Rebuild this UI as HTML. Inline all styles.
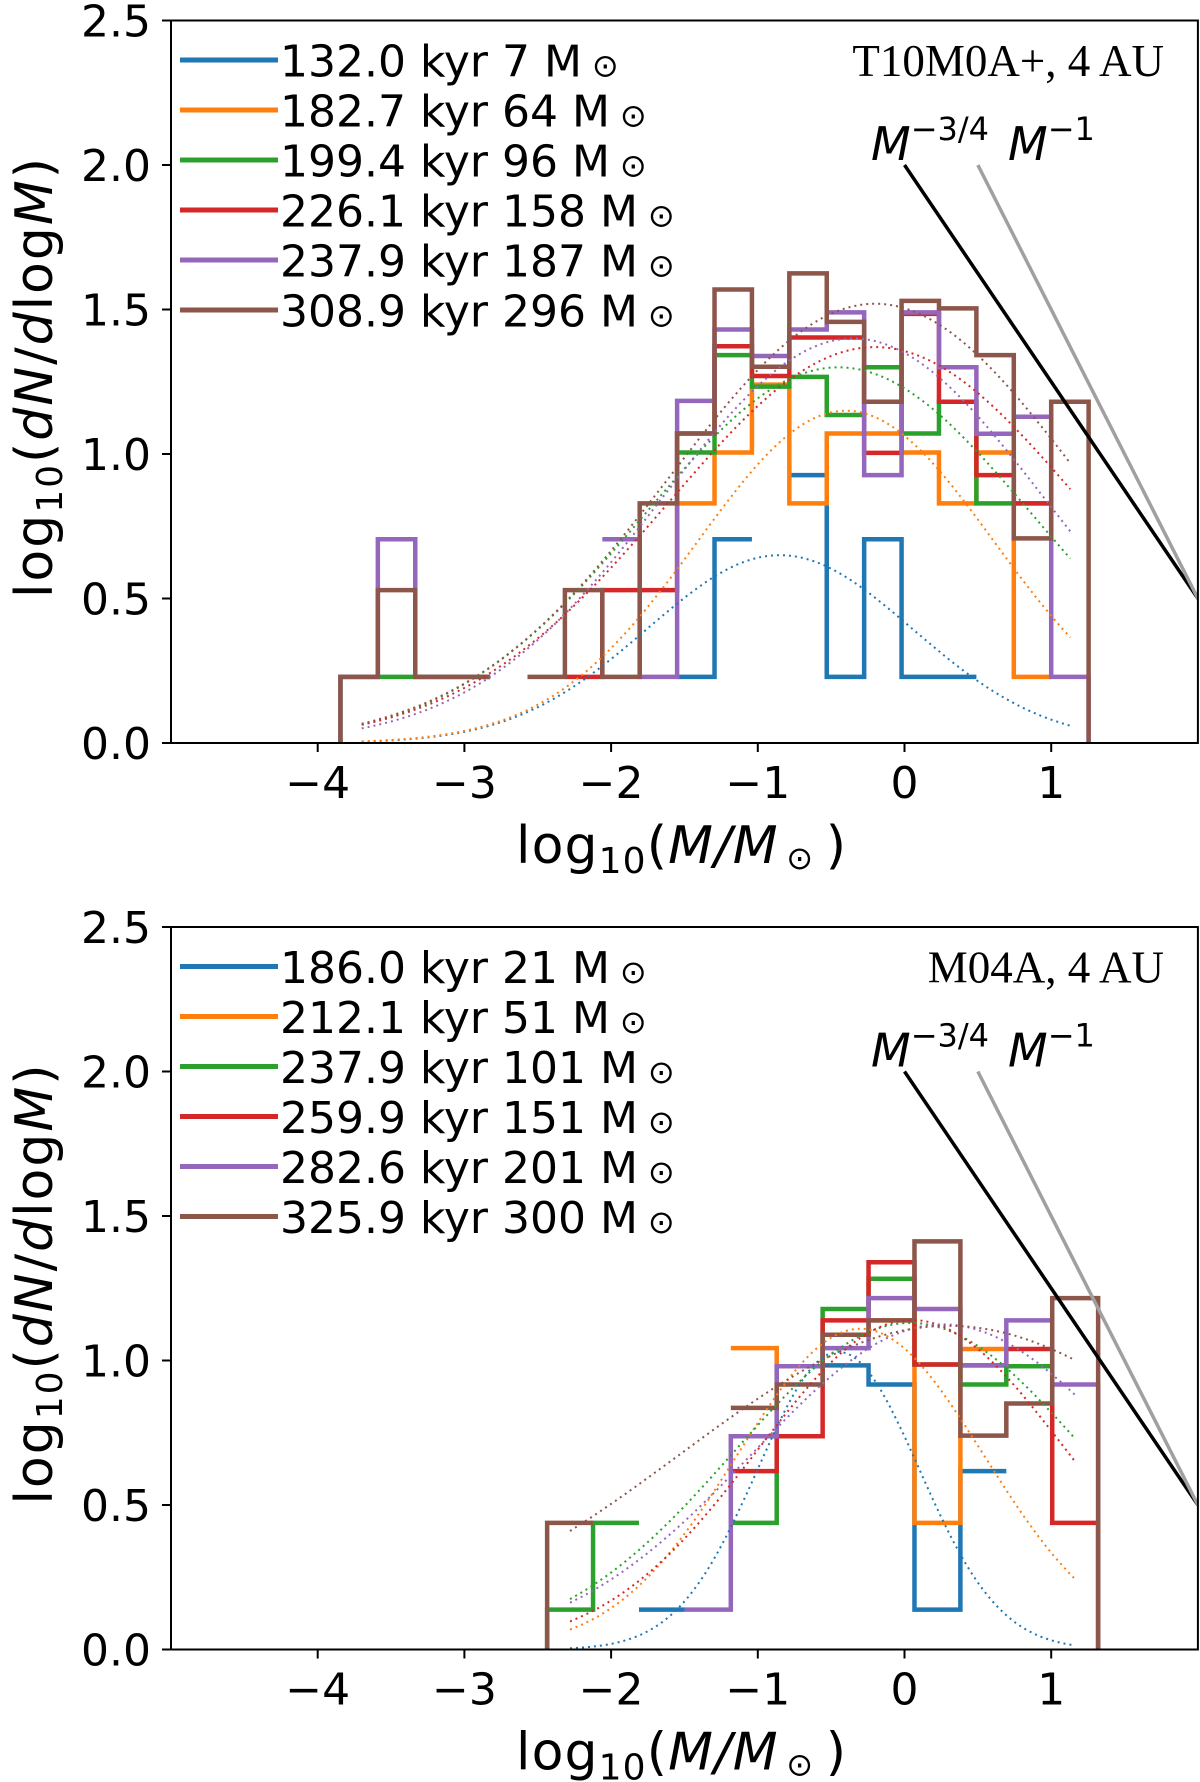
<!DOCTYPE html>
<html><head><meta charset="utf-8"><title>Mass functions</title>
<style>
html,body{margin:0;padding:0;background:#fff;}
svg{display:block;font-family:"DejaVu Sans","Liberation Sans",sans-serif;}
</style></head>
<body>
<svg id="fig" width="1200" height="1782" viewBox="0 0 1200 1782" xmlns="http://www.w3.org/2000/svg"></svg>
<script>
// ---------- data ----------
const colors = ["#1f77b4","#ff7f0e","#2ca02c","#d62728","#9467bd","#8c564b"];
const seriesNames = ["blue","orange","green","red","purple","brown"];
const xTicks = [-4,-3,-2,-1,0,1];
const xTickLabels = ["\u22124","\u22123","\u22122","\u22121","0","1"];
const yTicks = [0,0.5,1,1.5,2,2.5];
const yTickLabels = ["0.0","0.5","1.0","1.5","2.0","2.5"];

// top panel
const topTitle = "T10M0A+, 4 AU";
const topLegend = ["132.0 kyr 7 M","182.7 kyr 64 M","199.4 kyr 96 M","226.1 kyr 158 M","237.9 kyr 187 M","308.9 kyr 296 M"];
const topBinStart = -3.845;
const topBinWidth = 0.255;
const n = null;
const topBlue   = [n,n,n,n,n,n,n,n,n,.229,.705,n,.927,.229,.705,.229,.229,n,n,n];
const topOrange = [n,n,n,n,n,n,n,n,n,.829,1.005,1.24,.829,1.071,1.071,1.005,.829,1.005,.229,n];
const topGreen  = [.229,.229,.229,.229,n,n,n,n,n,1.005,1.342,1.233,1.267,1.135,1.30,1.071,1.181,.829,.829,n];
const topRed    = [n,n,n,n,n,n,.229,.529,.529,1.071,1.373,1.27,1.403,1.403,1.004,1.485,1.181,.927,.829,n];
const topPurple = [.229,.705,.229,.229,n,n,n,.705,.229,1.184,1.431,1.339,1.431,1.49,.927,1.49,1.30,1.07,1.129,.229];
const topBrown  = [.229,.529,.229,.229,n,.229,.529,.229,.829,1.071,1.569,1.302,1.625,1.457,1.181,1.530,1.504,1.342,.708,1.181];
const topFitMu  = [-0.85,-0.4,-0.45,-0.2,-0.35,-0.2];
const topFitAmp = [0.65,1.15,1.30,1.37,1.40,1.52];
const topFitSig = [0.906,1.01,1.325,1.41,1.30,1.40];
const topFitRange = [-3.7,1.13];

// bottom panel
const botTitle = "M04A, 4 AU";
const botLegend = ["186.0 kyr 21 M","212.1 kyr 51 M","237.9 kyr 101 M","259.9 kyr 151 M","282.6 kyr 201 M","325.9 kyr 300 M"];
const botBinStart = -2.436;
const botBinWidth = 0.313;
const botBlue   = [n,n,.138,n,n,n,.983,.917,.138,.617,n,n];
const botOrange = [n,n,n,n,1.043,.98,1.089,1.139,.438,1.040,n,n];
const botGreen  = [.138,.438,n,n,.438,.98,1.178,1.283,.986,.917,.98,n];
const botRed    = [n,n,n,n,.617,.738,1.139,1.340,.986,.983,1.040,.438];
const botPurple = [n,n,n,.138,.738,.98,1.043,1.216,1.178,.983,1.139,.917];
const botBrown  = [.438,n,n,n,.836,.917,1.089,1.139,1.412,.740,.851,1.216];
const botFitMu  = [-0.45,-0.3,0.04,0.05,0.26,0.3];
const botFitAmp = [1.03,1.11,1.13,1.14,1.125,1.12];
const botFitSig = [0.55,0.84,1.2,1.05,1.29,1.82];
const botFitRange = [-2.28,1.16];

// power-law guide lines [x0,y0,x1,y1] in data units
const slope34 = [0,2.0,2.0,0.5];
const slope1  = [0.5,2.0,2.0,0.5];

// ---------- drawing ----------
const NS = "http://www.w3.org/2000/svg";
const svg = document.getElementById("fig");
function mk(tag, attrs, parent){
  const e = document.createElementNS(NS, tag);
  for (const k in attrs) e.setAttribute(k, attrs[k]);
  (parent||svg).appendChild(e);
  return e;
}
const X0 = 171, UNIT_X = 146.7, UNIT_Y = 289.0;
const xMin = -5, xMax = 2;

function drawPanel(p, dy, binStart, binW, hists, fitMu, fitAmp, fitSig, fitRange, legend, title, pname){
  const yBot = 743 + dy, yTop = yBot - 2.5*UNIT_Y;
  const xs = v => X0 + (v - xMin)*UNIT_X;
  const ys = v => yBot - v*UNIT_Y;
  const g = mk("g", {});
  
  
  const clipId = "clip"+p;
  const cp = mk("clipPath", {id: clipId}, g);
  mk("rect", {x: xs(xMin), y: yTop, width: xs(xMax)-xs(xMin), height: yBot-yTop}, cp);
  const plot = mk("g", {"clip-path": "url(#"+clipId+")"}, g);

  hists.forEach((vals, s) => {
    let d = "";
    const nb = vals.length;
    for (let i=0;i<nb;i++){
      const v = vals[i];
      if (v === null) continue;
      const xl = xs(binStart + binW*i), xr = xs(binStart + binW*(i+1));
      const prev = i>0 ? vals[i-1] : null;
      if (i === 0) d += "M"+xl+","+ys(0)+"L"+xl+","+ys(v);
      else if (prev === null) d += "M"+xl+","+ys(v);
      else d += "L"+xl+","+ys(v);
      d += "L"+xr+","+ys(v);
      if (i === nb-1) d += "L"+xr+","+ys(0);
    }
    const path = mk("path", {d: d, fill: "none", stroke: colors[s], "stroke-width": 4.5, "stroke-linejoin": "miter"}, plot);
    
    
  });
  fitMu.forEach((mu, s) => {
    const pts = [];
    for (let k=0;k<=120;k++){
      const x = fitRange[0] + (fitRange[1]-fitRange[0])*k/120;
      const y = fitAmp[s]*Math.exp(-(x-mu)*(x-mu)/(2*fitSig[s]*fitSig[s]));
      pts.push(xs(x).toFixed(1)+","+ys(y).toFixed(1));
    }
    const pl = mk("polyline", {points: pts.join(" "), fill: "none", stroke: colors[s], "stroke-width": 2, "stroke-dasharray": "2,4"}, plot);
    
    
  });
  const l1 = mk("line", {x1: xs(slope34[0]), y1: ys(slope34[1]), x2: xs(slope34[2]), y2: ys(slope34[3]), stroke: "#000", "stroke-width": 3.5}, plot);
  
  
  const l2 = mk("line", {x1: xs(slope1[0]), y1: ys(slope1[1]), x2: xs(slope1[2]), y2: ys(slope1[3]), stroke: "#a0a0a0", "stroke-width": 3.5}, plot);
  
  

  const fr = mk("rect", {x: xs(xMin), y: yTop, width: xs(xMax)-xs(xMin), height: yBot-yTop, fill: "none", stroke: "#000", "stroke-width": 2}, g);
  
  

  xTicks.forEach((t, i) => {
    mk("line", {x1: xs(t), y1: yBot, x2: xs(t), y2: yBot+9, stroke: "#000", "stroke-width": 2}, g);
    const tx = mk("text", {x: xs(t), y: yBot+55, "font-size": 44, "text-anchor": "middle"}, g);
    tx.textContent = xTickLabels[i];
    
    
  });
  yTicks.forEach((t, i) => {
    mk("line", {x1: X0-9, y1: ys(t), x2: X0, y2: ys(t), stroke: "#000", "stroke-width": 2}, g);
    const tx = mk("text", {x: 151, y: ys(t)+16, "font-size": 44, "text-anchor": "end"}, g);
    tx.textContent = yTickLabels[i];
    
    
  });

  const xl = mk("text", {x: 681, y: 863+dy, "font-size": 52, "text-anchor": "middle", textLength: 330, lengthAdjust: "spacing"}, g);
  xl.innerHTML = 'log<tspan font-size="36" dy="10">10</tspan><tspan dy="-10">(</tspan><tspan font-style="italic">M/M</tspan><tspan font-size="32" dy="6">\u2009\u2299</tspan><tspan dy="-6">\u2009)</tspan>';
  
  
  const yl = mk("text", {transform: "translate(52,"+(378+dy)+") rotate(-90)", "font-size": 52, "text-anchor": "middle", textLength: 440, lengthAdjust: "spacing"}, g);
  yl.innerHTML = 'log<tspan font-size="36" dy="10">10</tspan><tspan dy="-10">(</tspan><tspan font-style="italic">dN</tspan>/<tspan font-style="italic">d</tspan>log<tspan font-style="italic">M</tspan>)';
  
  

  legend.forEach((lab, s) => {
    const yy = 60 + dy + 50*s;
    const le = mk("g", {}, g);
    
    
    mk("line", {x1: 180, y1: yy, x2: 278, y2: yy, stroke: colors[s], "stroke-width": 5}, le);
    const t = mk("text", {x: 280, y: yy+16.5, "font-size": 44}, le);
    t.innerHTML = lab + '<tspan font-size="32" dx="10">\u2299</tspan>';
  });

  const tt = mk("text", {x: 1164, y: 76+dy, "font-size": 45, "text-anchor": "end", "font-family": "'Liberation Serif',serif"}, g);
  tt.textContent = title;
  
  

  const s1 = mk("text", {x: 871, y: 160+dy, "font-size": 46}, g);
  s1.innerHTML = '<tspan font-style="italic">M</tspan><tspan font-size="32" dy="-20">\u22123/4</tspan>';
  
  
  const s2 = mk("text", {x: 1008, y: 160+dy, "font-size": 46}, g);
  s2.innerHTML = '<tspan font-style="italic">M</tspan><tspan font-size="32" dy="-20">\u22121</tspan>';
  
  
}

drawPanel(0, 0, topBinStart, topBinWidth,
  [topBlue, topOrange, topGreen, topRed, topPurple, topBrown],
  topFitMu, topFitAmp, topFitSig, topFitRange, topLegend, topTitle, "top-panel");
drawPanel(1, 906.5, botBinStart, botBinWidth,
  [botBlue, botOrange, botGreen, botRed, botPurple, botBrown],
  botFitMu, botFitAmp, botFitSig, botFitRange, botLegend, botTitle, "bottom-panel");
</script>
</body></html>
